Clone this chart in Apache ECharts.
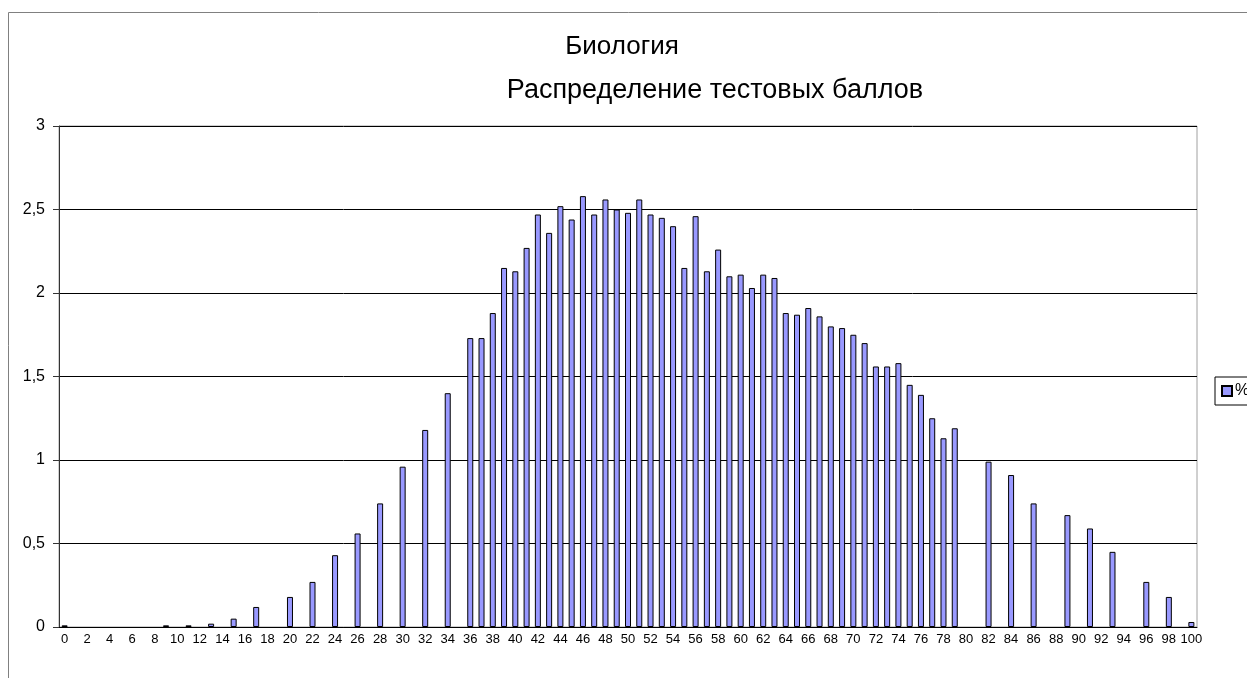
<!DOCTYPE html>
<html lang="ru">

<head>
    <meta charset="UTF-8">
    <title>Биология</title>
    <script src="https://cdn.jsdelivr.net/npm/echarts@6/dist/echarts.min.js"></script>
    <style>
        * {
            margin: 0;
            padding: 0
        }

        html,
        body {
            width: 100%;
            height: 100%;
            background: #fff;
        }

        #main {
            width: 1247px;
            height: 678px;
        }
    </style>
</head>

<body>
    <div id="main"></div>
    <script type="text/javascript">
        // баллы 0..100
        var scores = ['0', '1', '2', '3', '4', '5', '6', '7', '8', '9',
            '10', '11', '12', '13', '14', '15', '16', '17', '18', '19',
            '20', '21', '22', '23', '24', '25', '26', '27', '28', '29',
            '30', '31', '32', '33', '34', '35', '36', '37', '38', '39',
            '40', '41', '42', '43', '44', '45', '46', '47', '48', '49',
            '50', '51', '52', '53', '54', '55', '56', '57', '58', '59',
            '60', '61', '62', '63', '64', '65', '66', '67', '68', '69',
            '70', '71', '72', '73', '74', '75', '76', '77', '78', '79',
            '80', '81', '82', '83', '84', '85', '86', '87', '88', '89',
            '90', '91', '92', '93', '94', '95', '96', '97', '98', '99',
            '100'];

        // % участников (null - балл не встречается)
        var percent = [0.01, null, null, null, null, null, null, null, null, 0.01,
            null, 0.01, null, 0.02, null, 0.05, null, 0.12, null, null,
            0.18, null, 0.27, null, 0.43, null, 0.56, null, 0.74, null,
            0.96, null, 1.18, null, 1.40, null, 1.73, 1.73, 1.88, 2.15,
            2.13, 2.27, 2.47, 2.36, 2.52, 2.44, 2.58, 2.47, 2.56, 2.50,
            2.48, 2.56, 2.47, 2.45, 2.40, 2.15, 2.46, 2.13, 2.26, 2.10,
            2.11, 2.03, 2.11, 2.09, 1.88, 1.87, 1.91, 1.86, 1.80, 1.79,
            1.75, 1.70, 1.56, 1.56, 1.58, 1.45, 1.39, 1.25, 1.13, 1.19,
            null, null, 0.99, null, 0.91, null, 0.74, null, null, 0.67,
            null, 0.59, null, 0.45, null, null, 0.27, null, 0.18, null,
            0.03];

        var titleLines = ['Биология', 'Распределение тестовых баллов'];

        var font = '"Liberation Sans", Arial, sans-serif';
        var myChart = echarts.init(document.getElementById('main'));

        var option = {
            animation: false,
            textStyle: { fontFamily: font },
            graphic: [{
                    type: 'rect',
                    shape: { x: 8.5, y: 12.5, width: 1400, height: 800 },
                    style: { fill: 'none', stroke: '#808080', lineWidth: 1 },
                    silent: true
                },
                {
                    type: 'text',
                    x: 622, y: 47,
                    style: {
                        text: titleLines[0], font: '26px ' + font, fill: '#000',
                        textAlign: 'center', textVerticalAlign: 'middle'
                    }
                },
                {
                    type: 'text',
                    x: 715, y: 91,
                    style: {
                        text: titleLines[1], font: '27px ' + font, fill: '#000',
                        textAlign: 'center', textVerticalAlign: 'middle'
                    }
                }
            ],
            legend: {
                data: ['%'],
                left: 1215,
                top: 377,
                orient: 'vertical',
                icon: 'rect',
                itemWidth: 10,
                itemHeight: 10,
                itemGap: 4,
                padding: [6, 6, 6, 6],
                borderColor: '#000',
                borderWidth: 1,
                textStyle: { fontSize: 16, color: '#000', padding: [0, 0, 0, -2] }
            },
            grid: {
                left: 59,
                right: 50,
                top: 126,
                bottom: 51,
                show: true,
                borderColor: '#a0a0a0',
                borderWidth: 1
            },
            xAxis: {
                type: 'category',
                data: scores,
                boundaryGap: true,
                axisLine: { lineStyle: { color: '#000' } },
                axisTick: { interval: 0, length: 5, lineStyle: { color: '#000' } },
                axisLabel: { interval: 1, fontSize: 13, color: '#000', margin: 6 }
            },
            yAxis: {
                type: 'value',
                min: 0,
                max: 3,
                interval: 0.5,
                axisLine: { show: true, lineStyle: { color: '#333' } },
                axisTick: { show: true, length: 6, lineStyle: { color: '#333' } },
                axisLabel: {
                    fontSize: 16,
                    color: '#000',
                    margin: 14,
                    formatter: function (v) {
                        return String(v).replace('.', ',');
                    }
                },
                splitLine: { lineStyle: { color: '#000', width: 1 } }
            },
            series: [{
                name: '%',
                type: 'bar',
                data: percent,
                barWidth: 6,
                itemStyle: {
                    color: '#9999FF',
                    borderColor: '#000',
                    borderWidth: 1
                }
            }]
        };
        myChart.setOption(option);
    </script>
</body>

</html>
